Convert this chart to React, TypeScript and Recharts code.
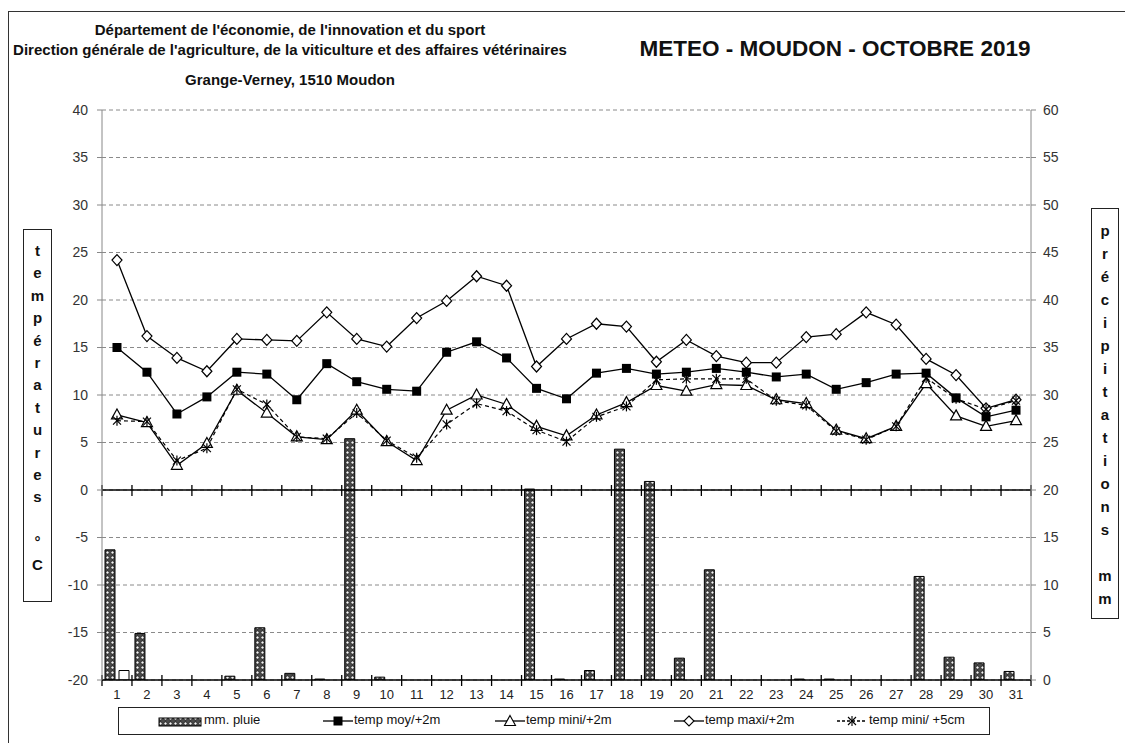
import React from 'react';
import { ComposedChart, Bar, Line, XAxis, YAxis, CartesianGrid, ReferenceLine } from 'recharts';

const days = ['1','2','3','4','5','6','7','8','9','10','11','12','13','14','15','16','17','18','19','20','21','22','23','24','25','26','27','28','29','30','31'];
const pluie = [13.7,4.9,0,0,0.4,5.5,0.7,0.1,25.4,0.3,0,0,0,0,20.1,0.1,1.0,24.3,20.9,2.3,11.6,0,0,0.1,0.1,0,0,10.9,2.4,1.8,0.9];
const autre = [1.0,0,0,0,0,0,0,0,0,0,0,0,0,0,0,0,0,0,0,0,0,0,0,0,0,0,0,0,0,0,0];
const tempMoy = [15.0,12.4,8.0,9.8,12.4,12.2,9.5,13.3,11.4,10.6,10.4,14.5,15.6,13.9,10.7,9.6,12.3,12.8,12.2,12.4,12.8,12.4,11.9,12.2,10.6,11.3,12.2,12.3,9.7,7.7,8.4];
const tempMin2m = [7.9,7.1,2.6,4.9,10.5,8.1,5.6,5.3,8.4,5.1,3.1,8.4,10.0,9.0,6.7,5.7,7.9,9.2,11.0,10.4,11.1,11.0,9.5,9.1,6.3,5.4,6.7,11.2,7.8,6.7,7.3];
const tempMax = [24.2,16.2,13.9,12.5,15.9,15.8,15.7,18.7,15.9,15.1,18.1,19.9,22.5,21.5,13.0,15.9,17.5,17.2,13.5,15.8,14.1,13.4,13.4,16.1,16.4,18.7,17.4,13.8,12.1,8.6,9.5];
const tempMin5cm = [7.3,7.2,3.1,4.4,10.6,9.0,5.6,5.4,8.1,5.2,3.4,6.9,9.1,8.3,6.3,5.1,7.7,8.8,11.6,11.7,11.7,11.7,9.4,8.9,6.2,5.3,6.7,11.8,9.6,8.5,9.4];
const leftTicks = [-20,-15,-10,-5,0,5,10,15,20,25,30,35,40];
const rightTicks = [0,5,10,15,20,25,30,35,40,45,50,55,60];
const leftLabel = ['t','e','m','p','é','r','a','t','u','r','e','s','','°','C'];
const rightLabel = ['p','r','é','c','i','p','i','t','a','t','i','o','n','s','','m','m'];

const rows = days.map((d, i) => ({
  day: d,
  pluie: pluie[i],
  autre: autre[i],
  moy: tempMoy[i],
  min2m: tempMin2m[i],
  max2m: tempMax[i],
  min5cm: tempMin5cm[i],
}));

const NARROW = '"Liberation Sans Narrow", "Liberation Sans", Arial, sans-serif';
const SANS = '"Liberation Sans", Arial, Helvetica, sans-serif';

const SquareDot = (p: any) => {
  if (p.cx == null || p.cy == null) return <g key={p.key ?? p.index} />;
  return <rect key={p.key ?? p.index} x={p.cx - 4.5} y={p.cy - 4.5} width={9} height={9} fill="#000" />;
};
const TriangleDot = (p: any) => {
  if (p.cx == null || p.cy == null) return <g key={p.key ?? p.index} />;
  const { cx, cy } = p;
  return <polygon key={p.key ?? p.index} points={`${cx},${cy - 6} ${cx + 5.5},${cy + 4} ${cx - 5.5},${cy + 4}`} fill="#fff" stroke="#000" strokeWidth={1.2} />;
};
const DiamondDot = (p: any) => {
  if (p.cx == null || p.cy == null) return <g key={p.key ?? p.index} />;
  const { cx, cy } = p;
  return <polygon key={p.key ?? p.index} points={`${cx},${cy - 5.5} ${cx + 5},${cy} ${cx},${cy + 5.5} ${cx - 5},${cy}`} fill="#fff" stroke="#000" strokeWidth={1.2} />;
};
const StarDot = (p: any) => {
  if (p.cx == null || p.cy == null) return <g key={p.key ?? p.index} />;
  const { cx, cy } = p;
  return (
    <g key={p.key ?? p.index} stroke="#000" strokeWidth={1.2}>
      <line x1={cx - 4} y1={cy - 4} x2={cx + 4} y2={cy + 4} />
      <line x1={cx - 4} y1={cy + 4} x2={cx + 4} y2={cy - 4} />
      <line x1={cx} y1={cy - 5} x2={cx} y2={cy + 5} />
    </g>
  );
};

const TickedLine = (p: any) => {
  const x1 = Number(p.x1), x2 = Number(p.x2), y = Number(p.y1);
  const n = days.length;
  const step = (x2 - x1) / n;
  const marks = [];
  for (let i = 0; i <= n; i++) {
    const x = x1 + i * step;
    marks.push(<line key={i} x1={x} y1={y - 5} x2={x} y2={y + 6} stroke="#000" strokeWidth={1.3} />);
  }
  return (
    <g>
      <line x1={x1} y1={y} x2={x2} y2={y} stroke="#000" strokeWidth={1.6} />
      {marks}
    </g>
  );
};

const PatternDef = ({ id }: { id: string }) => (
  <pattern id={id} width="5" height="5" patternUnits="userSpaceOnUse">
    <rect width="5" height="5" fill="#4a4a4a" />
    <circle cx="2.5" cy="2.5" r="1.6" fill="#f4f4f4" stroke="#111" strokeWidth="0.7" />
  </pattern>
);

const LegendIcon = ({ kind }: { kind: string }) => {
  if (kind === 'bar') {
    return (
      <svg width={44} height={12}>
        <defs>
          <PatternDef id="rainPatLeg" />
        </defs>
        <rect x={1} y={2} width={42} height={8} fill="url(#rainPatLeg)" stroke="#000" strokeWidth={1} />
      </svg>
    );
  }
  const dash = kind === 'star' ? '3 2' : undefined;
  return (
    <svg width={30} height={14}>
      <line x1={0} y1={7} x2={30} y2={7} stroke="#000" strokeWidth={1.3} strokeDasharray={dash} />
      {kind === 'square' && <rect x={10.5} y={2.5} width={9} height={9} fill="#000" />}
      {kind === 'triangle' && <polygon points="15,1.5 20.5,11.5 9.5,11.5" fill="#fff" stroke="#000" strokeWidth={1.1} />}
      {kind === 'diamond' && <polygon points="15,2 20,7 15,12 10,7" fill="#fff" stroke="#000" strokeWidth={1.1} />}
      {kind === 'star' && (
        <g stroke="#000" strokeWidth={1.1}>
          <line x1={11} y1={3} x2={19} y2={11} />
          <line x1={11} y1={11} x2={19} y2={3} />
          <line x1={15} y1={2} x2={15} y2={12} />
        </g>
      )}
    </svg>
  );
};

const legendItems = [
  { kind: 'bar', label: 'mm. pluie', iconX: 157, textX: 203 },
  { kind: 'square', label: 'temp moy/+2m', iconX: 322, textX: 353 },
  { kind: 'triangle', label: 'temp mini/+2m', iconX: 494, textX: 525 },
  { kind: 'diamond', label: 'temp maxi/+2m', iconX: 673, textX: 704 },
  { kind: 'star', label: 'temp mini/ +5cm', iconX: 836, textX: 868 },
];

const VerticalBox = ({ letters, left, top, width, height, lineH, padTop }: any) => (
  <div style={{ position: 'absolute', left, top, width, height, border: '1.5px solid #222', boxSizing: 'border-box' }}>
    {letters.map((l: string, i: number) => (
      <div key={i} style={{ position: 'absolute', left: 0, width: '100%', top: padTop + i * lineH, height: lineH, lineHeight: `${lineH}px`, textAlign: 'center', fontFamily: SANS, fontWeight: 'bold', fontSize: 15, color: '#111' }}>{l}</div>
    ))}
  </div>
);

export default function App() {
  return (
    <div style={{ position: 'absolute', left: 0, top: 0, width: 1125, height: 743, background: '#fff', overflow: 'hidden' }}>
      <div style={{ position: 'absolute', left: 8, top: 11, width: 1200, height: 800, borderLeft: '1.5px solid #333', borderTop: '1.5px solid #333' }} />
      <div style={{ position: 'absolute', left: 0, width: 580, top: 20, textAlign: 'center', fontFamily: SANS, fontWeight: 'bold', fontSize: 15, color: '#111', lineHeight: '20px' }}>
        <div>Département de l'économie, de l'innovation et du sport</div>
        <div>Direction générale de l'agriculture, de la viticulture et des affaires vétérinaires</div>
        <div style={{ marginTop: 10 }}>Grange-Verney, 1510 Moudon</div>
      </div>
      <div style={{ position: 'absolute', left: 610, width: 450, top: 36, textAlign: 'center', fontFamily: SANS, fontWeight: 'bold', fontSize: 22.5, color: '#111' }}>
        METEO - MOUDON - OCTOBRE 2019
      </div>
      <ComposedChart
        width={1125}
        height={743}
        data={rows}
        margin={{ top: 110, right: 34, bottom: 33, left: 42 }}
        barSize={10}
        barGap={4}
        style={{ position: 'absolute', left: 0, top: 0 }}
      >
        <defs>
          <PatternDef id="rainPat" />
        </defs>
        <CartesianGrid yAxisId="left" vertical={false} stroke="#8a8a8a" strokeDasharray="4 3" />
        <XAxis
          dataKey="day"
          interval={0}
          height={30}
          axisLine={false}
          tickLine={false}
          tickSize={0}
          tickMargin={10}
          tick={{ fill: '#222', fontSize: 13, fontFamily: NARROW }}
        />
        <YAxis
          yAxisId="left"
          orientation="left"
          domain={[-20, 40]}
          ticks={leftTicks}
          width={60}
          allowDataOverflow
          stroke="#888"
          tickSize={5}
          tickMargin={9}
          tick={{ fill: '#333', fontSize: 14, fontFamily: NARROW }}
        />
        <YAxis
          yAxisId="right"
          orientation="right"
          domain={[0, 60]}
          ticks={rightTicks}
          width={60}
          allowDataOverflow
          stroke="#888"
          tickSize={5}
          tickMargin={7}
          tick={{ fill: '#333', fontSize: 14, fontFamily: NARROW }}
        />
        <Bar yAxisId="right" dataKey="pluie" name="mm. pluie" fill="url(#rainPat)" stroke="#000" strokeWidth={1} isAnimationActive={false} />
        <Bar yAxisId="right" dataKey="autre" name="autre" legendType="none" fill="#fff" stroke="#000" strokeWidth={1} isAnimationActive={false} />
        <ReferenceLine yAxisId="left" y={0} ifOverflow="visible" shape={(p: any) => <TickedLine {...p} />} />
        <ReferenceLine yAxisId="left" y={-20} ifOverflow="visible" shape={(p: any) => <TickedLine {...p} />} />
        <Line yAxisId="left" dataKey="max2m" name="temp maxi/+2m" stroke="#000" strokeWidth={1.3} dot={DiamondDot} isAnimationActive={false} />
        <Line yAxisId="left" dataKey="moy" name="temp moy/+2m" stroke="#000" strokeWidth={1.3} dot={SquareDot} isAnimationActive={false} />
        <Line yAxisId="left" dataKey="min2m" name="temp mini/+2m" stroke="#000" strokeWidth={1.3} dot={TriangleDot} isAnimationActive={false} />
        <Line yAxisId="left" dataKey="min5cm" name="temp mini/ +5cm" stroke="#000" strokeWidth={1.2} strokeDasharray="4 3" dot={StarDot} isAnimationActive={false} />
      </ComposedChart>
      <VerticalBox letters={leftLabel} left={23} top={229} width={29} height={373} lineH={22.4} padTop={10} />
      <VerticalBox letters={rightLabel} left={1091} top={208} width={28} height={411} lineH={23} padTop={10} />
      <div style={{ position: 'absolute', left: 118, top: 707, width: 872, height: 28, border: '1.5px solid #222', boxSizing: 'border-box' }}>
        {legendItems.map((it) => (
          <React.Fragment key={it.label}>
            <div style={{ position: 'absolute', left: it.iconX - 118, top: 6 }}>
              <LegendIcon kind={it.kind} />
            </div>
            <div style={{ position: 'absolute', left: it.textX - 118, top: 4, fontFamily: NARROW, fontSize: 13, color: '#111', whiteSpace: 'nowrap' }}>{it.label}</div>
          </React.Fragment>
        ))}
      </div>
    </div>
  );
}
